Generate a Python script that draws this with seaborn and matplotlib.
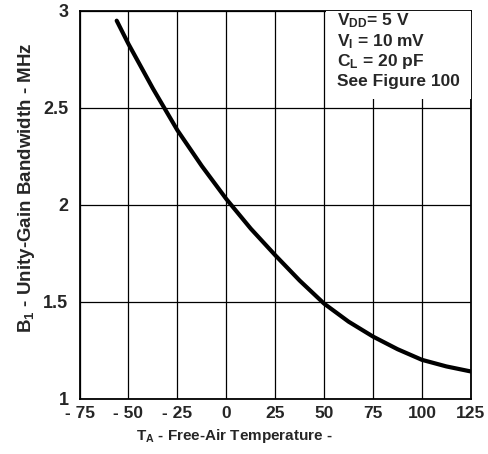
import matplotlib
matplotlib.use("Agg")
import matplotlib.pyplot as plt
import seaborn as sns
import pandas as pd
from matplotlib.patches import Rectangle

temps = [-56, -50, -37.5, -25, -12.5, 0, 12.5, 25, 37.5, 50, 62.5, 75, 87.5, 100, 112.5, 125]
bandwidth = [2.95, 2.83, 2.60, 2.385, 2.20, 2.03, 1.877, 1.74, 1.609, 1.49, 1.397, 1.32, 1.255, 1.20, 1.166, 1.14]
x_ticks = [-75, -50, -25, 0, 25, 50, 75, 100, 125]
x_tick_labels = ["- 75", "- 50", "- 25", "0", "25", "50", "75", "100", "125"]
y_ticks = [1, 1.5, 2, 2.5, 3]
y_tick_labels = ["1", "1.5", "2", "2.5", "3"]
notes = [r"V$_\mathrm{DD}$= 5 V", r"V$_\mathrm{I}$ = 10 mV", r"C$_\mathrm{L}$ = 20 pF", "See Figure 100"]

sns.set_style("white")
plt.rcParams["font.family"] = ["Liberation Sans", "DejaVu Sans"]
plt.rcParams["font.weight"] = "bold"
plt.rcParams["mathtext.fontset"] = "custom"
plt.rcParams["mathtext.rm"] = "Liberation Sans:bold"
plt.rcParams["mathtext.it"] = "Liberation Sans:bold"
plt.rcParams["mathtext.bf"] = "Liberation Sans:bold"

df = pd.DataFrame({"T": temps, "B": bandwidth})

fig = plt.figure(figsize=(4.89, 4.54), dpi=100)
ax = fig.add_axes([0.1626, 0.122, 0.8004, 0.8538])

sns.lineplot(data=df, x="T", y="B", ax=ax, color="black", linewidth=3.0, zorder=5)

ax.set_xlim(-75, 125)
ax.set_ylim(1, 3)
ax.set_xticks(x_ticks)
ax.set_xticklabels(x_tick_labels, fontsize=12.5, fontweight="bold")
ax.set_yticks(y_ticks)
ax.set_yticklabels(y_tick_labels, fontsize=13, fontweight="bold")
ax.tick_params(axis="both", length=0)
ax.tick_params(axis="x", pad=5)
ax.tick_params(axis="y", pad=8)

ax.grid(True, color="black", linewidth=0.9, zorder=1)
ax.set_axisbelow(True)
for s in ax.spines.values():
    s.set_color("black")
    s.set_linewidth(1.3)

ax.add_patch(Rectangle((51.2, 2.545), 73.8, 0.455, facecolor="white", edgecolor="none", zorder=3))

ys = [0.975, 0.922, 0.869, 0.817]
for t, yy in zip(notes, ys):
    ax.text(0.658, yy, t, transform=ax.transAxes, fontsize=12.5, fontweight="bold",
            va="center", ha="left", zorder=6)

ax.set_xlabel(r"T$_\mathrm{A}$ - Free-Air Temperature -", fontsize=11, fontweight="bold")
ax.xaxis.set_label_coords(0.395, -0.072)
ax.set_ylabel(r"B$_\mathrm{1}$ - Unity-Gain Bandwidth - MHz", fontsize=13.5, fontweight="bold")
ax.yaxis.set_label_coords(-0.108, 0.545)

fig.savefig("out.png", dpi=100)
